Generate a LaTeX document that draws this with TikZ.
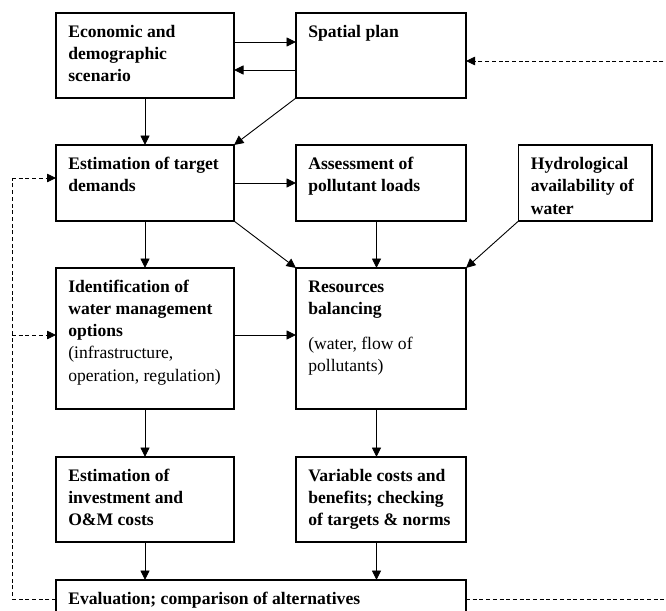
\documentclass[tikz,border=0pt]{standalone}
\usepackage{fontspec}
\setmainfont{Liberation Serif}
\usetikzlibrary{arrows.meta,calc}
\begin{document}
\begin{tikzpicture}[x=1pt,y=-1pt,
  box/.style={draw=black,line width=1.1pt,inner sep=0pt,outer sep=0pt,anchor=north west},
  txt/.style={inner sep=0pt,outer sep=0pt,anchor=north west,align=left,font=\fontsize{17.6}{22.2}\selectfont},
  arr/.style={-{Triangle[length=9.5pt,width=9pt]},line width=0.9pt},
  dsh/.style={line width=0.8pt,dash pattern=on 4pt off 2.7pt},
  darr/.style={dsh,-{Triangle[length=9pt,width=8.5pt]}}]
\useasboundingbox (0,0) rectangle (666,610);
\clip (0,0) rectangle (666,610);
\fill[white] (0,0) rectangle (666,610);
% boxes
\node[box,minimum width=178pt,minimum height=85pt] (econ) at (56,13) {};
\node[box,minimum width=170pt,minimum height=85pt] (spatial) at (296,13) {};
\node[box,minimum width=178pt,minimum height=76pt] (demand) at (56,145) {};
\node[box,minimum width=170pt,minimum height=76pt] (pollut) at (296,145) {};
\node[box,minimum width=133.5pt,minimum height=76pt] (hydro) at (518.5,145) {};
\node[box,minimum width=178pt,minimum height=141pt] (options) at (56,268) {};
\node[box,minimum width=170pt,minimum height=141pt] (balance) at (296,268) {};
\node[box,minimum width=178pt,minimum height=85pt] (invest) at (56,457) {};
\node[box,minimum width=170pt,minimum height=85pt] (variable) at (296,457) {};
\node[box,minimum width=410pt,minimum height=38pt] (eval) at (56,580) {};
% texts
\node[txt] (econT) at ($(econ.north west)+(12.3,8.7)$) {\bfseries\strut Economic and\\\bfseries demographic\\\bfseries scenario};
\node[txt] (spatialT) at ($(spatial.north west)+(12.3,8.7)$) {\bfseries\strut Spatial plan};
\node[txt] (demandT) at ($(demand.north west)+(12.3,8.7)$) {\bfseries\strut Estimation of target\\\bfseries demands};
\node[txt] (pollutT) at ($(pollut.north west)+(12.3,8.7)$) {\bfseries\strut Assessment of\\\bfseries pollutant loads};
\node[txt] (hydroT) at ($(hydro.north west)+(12.3,9.2)$) {\bfseries\strut Hydrological\\\bfseries availability of\\\bfseries water};
\node[txt] (optionsT) at ($(options.north west)+(12.3,8.7)$) {\bfseries\strut Identification of\\\bfseries water management\\\bfseries options\\(infrastructure,\\operation, regulation)};
\node[txt] (balanceT) at ($(balance.north west)+(12.3,8.7)$) {\bfseries\strut Resources\\\bfseries balancing\\[12.7pt](water, flow of\\pollutants)};
\node[txt] (investT) at ($(invest.north west)+(12.3,8.7)$) {\bfseries\strut Estimation of\\\bfseries investment and\\\bfseries O\&M costs};
\node[txt] (variableT) at ($(variable.north west)+(12.3,8.7)$) {\bfseries\strut Variable costs and\\\bfseries benefits; checking\\\bfseries of targets \& norms};
\node[txt] (evalT) at ($(eval.north west)+(12.3,8.7)$) {\bfseries\strut Evaluation; comparison of alternatives};
% helper coordinates for dashed feedback lines
\coordinate (Ltop) at (12,178);
\coordinate (Lmid) at (12,335);
\coordinate (Rbot) at (670,599);
\coordinate (Rtop) at (670,61);
% solid arrows
\draw[arr] ([yshift=13.5pt]econ.east) -- ([yshift=13.5pt]spatial.west);
\draw[arr] ([yshift=-14.5pt]spatial.west) -- ([yshift=-14.5pt]econ.east);
\draw[arr] (econ.south) -- (demand.north);
\draw[arr] (spatial.south west) -- (demand.north east);
\draw[arr] (demand.east) -- (pollut.west);
\draw[arr] (demand.south) -- (options.north);
\draw[arr] (demand.south east) -- (balance.north west);
\draw[arr] ([xshift=-4.5pt]pollut.south) -- ([xshift=-4.5pt]balance.north);
\draw[arr] (hydro.south west) -- (balance.north east);
\draw[arr] ([yshift=3.5pt]options.east) -- ([yshift=3.5pt]options.east -| balance.west);
\draw[arr] (options.south) -- (invest.north);
\draw[arr] ([xshift=-4.5pt]balance.south) -- ([xshift=-4.5pt]variable.north);
\draw[arr] (invest.south) -- (invest.south |- eval.north);
\draw[arr] ([xshift=-4.5pt]variable.south) -- ([xshift=-4.5pt]variable.south |- eval.north);
% dashed feedback
\draw[dsh] (eval.west) -| (Ltop);
\draw[darr] (Ltop) -- (Ltop -| demand.west);
\draw[darr] (Lmid) -- (Lmid -| options.west);
\draw[dsh] (eval.east) -- (Rbot) -- (Rtop);
\draw[darr] (Rtop) -- (Rtop -| spatial.east);
\end{tikzpicture}
\end{document}
